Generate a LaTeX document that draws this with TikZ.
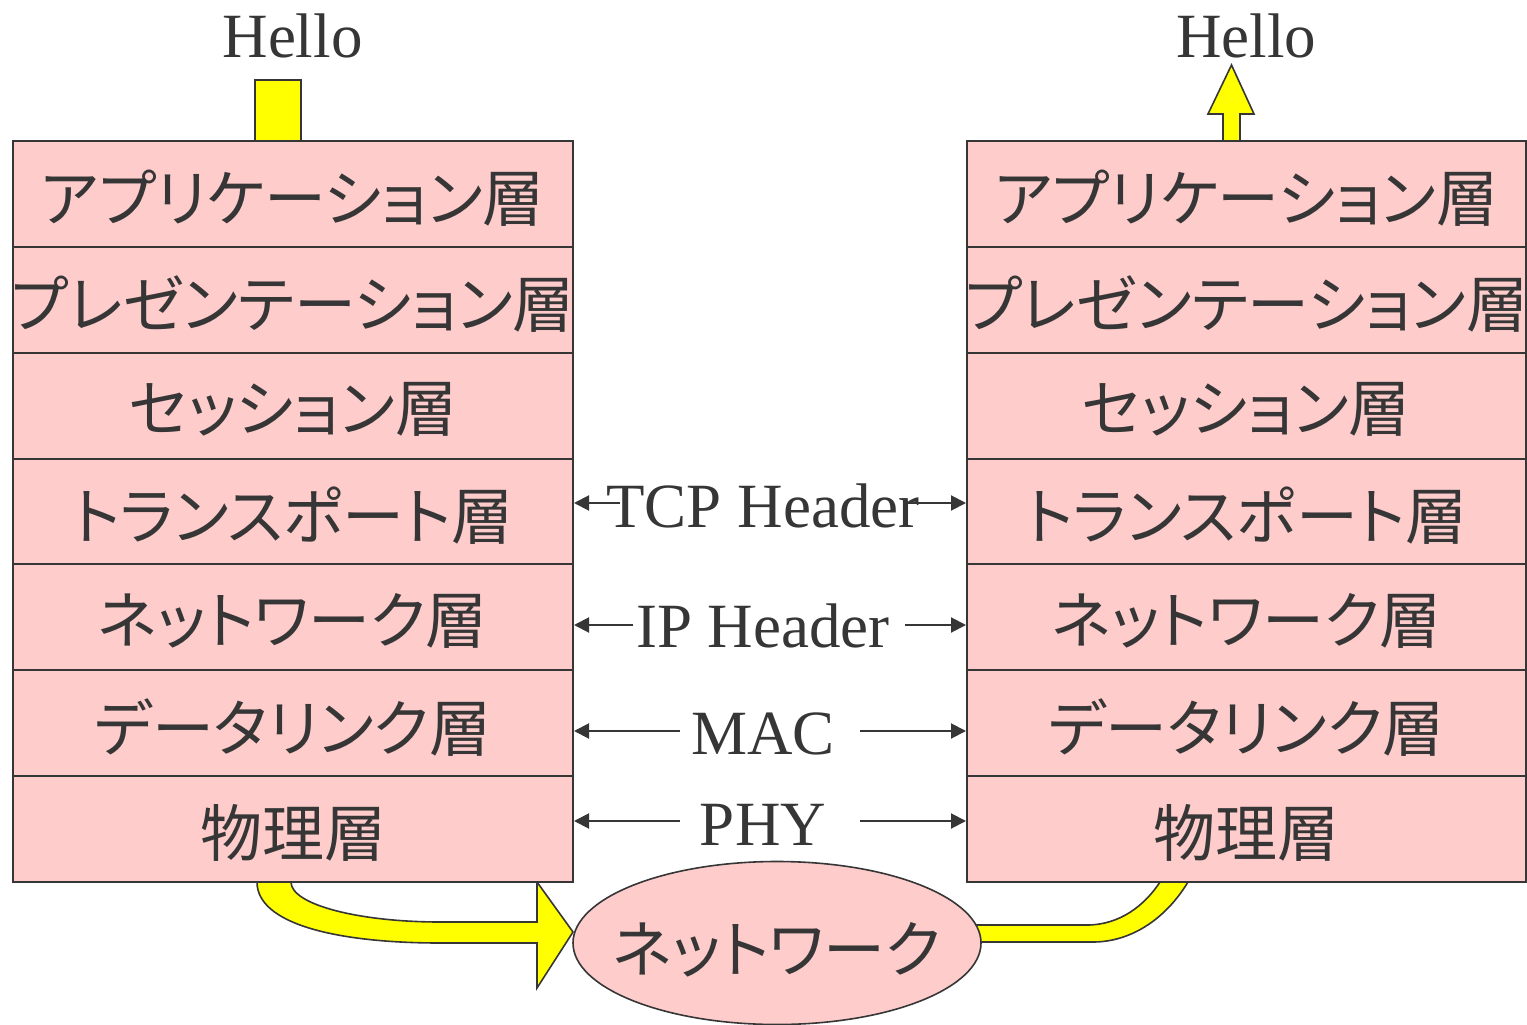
\documentclass[tikz,border=0pt]{standalone}
\usepackage{fontspec}
\setmainfont{Liberation Serif}
\newfontfamily\jp{Noto Sans CJK JP}[RawFeature=+palt]
\usetikzlibrary{shapes.geometric,arrows.meta}
\definecolor{ink}{HTML}{363636}
\definecolor{pinkfill}{HTML}{FFCCCC}
\definecolor{yel}{HTML}{FFFF00}
\newcommand\jpfont{\jp\fontsize{62}{66}\selectfont}
\tikzset{
  layer/.style={draw=ink, line width=2pt, fill=pinkfill, minimum width=560pt, minimum height=105.86pt,
    inner sep=0pt},
  layerR/.style={layer, minimum width=559pt},
  jptext/.style={font=\jpfont, text=ink, inner sep=0pt},
  lbl/.style={font=\fontsize{63}{70}\selectfont, text=ink, inner sep=0pt, anchor=base},
  arr/.style={draw=ink, line width=2pt, -{Triangle[length=15pt,width=15pt]}},
  pipe/.style={draw=ink, line width=1.6pt, fill=yel, line join=miter},
}
\begin{document}
\begin{tikzpicture}[x=1pt,y=-1pt]
\useasboundingbox (0,0) rectangle (1527,1025);
\fill[white] (0,0) rectangle (1527,1025);

% yellow shapes
\draw[pipe] (255,80) rectangle (301,141);
\draw[pipe] (1223,141) -- (1223,114) -- (1208,114) -- (1231.5,65) -- (1254,114) -- (1240,114) -- (1240,141) -- cycle;
\draw[pipe] (257,882) .. controls (257,925) and (340,943) .. (440,943) -- (537,943) -- (537,988) -- (573,932)
  -- (537,882) -- (537,922) -- (440,922) .. controls (360,922) and (291,905) .. (291,882) -- cycle;
\draw[pipe] (900,925) -- (1087,925) .. controls (1120,925) and (1145,905) .. (1160,882) -- (1188,882)
  .. controls (1165,920) and (1130,942) .. (1093,942) -- (900,942) -- cycle;

% stacks
\foreach \i/\t in {1/アプリケーション層,2/プレゼンテーション層,3/セッション層,4/トランスポート層,5/ネットワーク層,6/データリンク層,7/物理層}{
  \node[layer] (L\i) at (293,{141+105.86*(\i-0.5)}) {};
  \node[jptext] (LT\i) at (293,{141+105.86*(\i-0.5)+4}) {\t};
  \node[layerR] (R\i) at (1246.5,{141+105.86*(\i-0.5)}) {};
  \node[jptext] (RT\i) at (1246.5,{141+105.86*(\i-0.5)+4}) {\t};
}

% network ellipse
\node[ellipse, draw=ink, line width=1.6pt, fill=pinkfill, minimum width=408pt, minimum height=163pt, inner sep=0pt] (net) at (777,943) {};
\node[jptext] (netT) at (777,950) {ネットワーク};

% Hello labels
\node[lbl] (h1) at (292.5,58) {Hello};
\node[lbl] (h2) at (1246,58) {Hello};

% middle labels
\node[lbl] (tcp) at (763,527) {TCP Header};
\node[lbl] (ip) at (763,647) {IP Header};
\node[lbl] (mac) at (763,754) {MAC};
\node[lbl] (phy) at (763,845) {PHY};

\coordinate (tcpA) at (620,503); \coordinate (tcpB) at (907,503);
\coordinate (ipA) at (633,625);  \coordinate (ipB) at (905,625);
\coordinate (macA) at (680,731); \coordinate (macB) at (860,731);
\coordinate (phyA) at (680,821); \coordinate (phyB) at (860,821);

\draw[arr] (tcpA) -- (L4.east |- tcpA);
\draw[arr] (tcpB) -- (R4.west |- tcpB);
\draw[arr] (ipA) -- (L5.east |- ipA);
\draw[arr] (ipB) -- (R5.west |- ipB);
\draw[arr] (macA) -- (L6.east |- macA);
\draw[arr] (macB) -- (R6.west |- macB);
\draw[arr] (phyA) -- (L7.east |- phyA);
\draw[arr] (phyB) -- (R7.west |- phyB);
\end{tikzpicture}
\end{document}
